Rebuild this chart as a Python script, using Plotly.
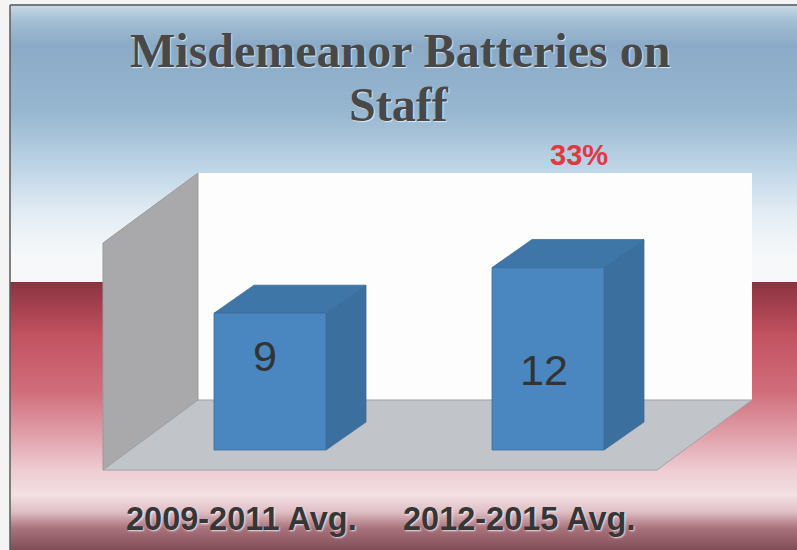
import plotly.graph_objects as go

# ---------------- data ----------------
categories = ["2009-2011 Avg.", "2012-2015 Avg."]
values = [9, 12]
change_label = "33%"
title_lines = ["Misdemeanor Batteries on", "Staff"]

# ---------------- layout constants (pixels) ----------------
W, H = 797, 550
PX_PER_UNIT = 15.2      # value -> pixel scale
BASE_PY = 450           # pixel y of value 0 at bar front
CAT0_PX = 270           # pixel x of first category centre
CAT_STEP = 278          # pixel distance between categories
BAR_W_PX = 112
DEPTH_DX, DEPTH_DY = 40, 28

def paper(px, py):
    return px / W, 1 - py / H

# axis ranges so that data units map onto pixels
x_range = [(0 - CAT0_PX) / CAT_STEP, (W - CAT0_PX) / CAT_STEP]
y_range = [(BASE_PY - H) / PX_PER_UNIT, BASE_PY / PX_PER_UNIT]

bw = BAR_W_PX / CAT_STEP
ddx = DEPTH_DX / CAT_STEP
ddy = DEPTH_DY / PX_PER_UNIT

shapes = []

# ---------------- background gradient (style) ----------------
stops = [
    (0, (214, 226, 236)), (20, (165, 191, 212)), (45, (138, 170, 199)),
    (110, (150, 182, 208)), (165, (188, 211, 229)), (215, (228, 237, 244)),
    (255, (246, 248, 250)), (282, (248, 248, 249)), (283, (138, 52, 66)),
    (300, (158, 60, 75)), (335, (194, 82, 96)), (390, (208, 108, 122)),
    (435, (224, 160, 170)), (470, (238, 204, 210)), (495, (243, 224, 227)),
    (512, (222, 190, 196)), (528, (170, 115, 125)), (550, (128, 78, 88)),
]

def col_at(y):
    for (y0, c0), (y1, c1) in zip(stops[:-1], stops[1:]):
        if y0 <= y <= y1:
            t = 0 if y1 == y0 else (y - y0) / (y1 - y0)
            return "rgb(%d,%d,%d)" % tuple(round(a + (b - a) * t) for a, b in zip(c0, c1))
    return "rgb(%d,%d,%d)" % stops[-1][1]

step = 2
for y in range(4, H, step):
    x0, y0 = paper(10, y)
    x1, y1 = paper(W, min(y + step + 1, H))
    shapes.append(dict(type="rect", xref="paper", yref="paper", x0=x0, x1=x1,
                       y0=y1, y1=y0, fillcolor=col_at(y + 1), line_width=0,
                       layer="below"))

# slide border
bx0, by0 = paper(10, 5)
shapes.append(dict(type="line", xref="paper", yref="paper", x0=bx0, x1=1,
                   y0=by0, y1=by0, line=dict(color="#5a5a5a", width=1.5), layer="below"))
shapes.append(dict(type="line", xref="paper", yref="paper", x0=bx0, x1=bx0,
                   y0=by0, y1=0, line=dict(color="#5a5a5a", width=1.5), layer="below"))

# ---------------- 3-D frame: back wall, side wall, floor ----------------
def poly_path(pts):
    p = [paper(*q) for q in pts]
    return "M " + " L ".join("%.5f,%.5f" % q for q in p) + " Z"

back_wall = [(198, 173), (752, 173), (752, 400), (198, 400)]
side_wall = [(103, 243), (198, 173), (198, 400), (103, 470)]
floor = [(103, 470), (657, 470), (752, 400), (198, 400)]
for pts, fill, lc in [(back_wall, "#fdfdfd", "rgba(0,0,0,0)"),
                      (side_wall, "#a9a9ab", "#9a9a9c"),
                      (floor, "#c1c4c8", "#9ea2a6")]:
    shapes.append(dict(type="path", xref="paper", yref="paper", path=poly_path(pts),
                       fillcolor=fill, line=dict(color=lc, width=1), layer="below"))

# ---------------- bars ----------------
fig = go.Figure()
front_c, side_c, top_c, edge_c = "#4a86bf", "#3a6f9e", "#3e76a8", "#3b6c98"
for i, v in enumerate(values):
    x0, x1 = i - bw / 2, i + bw / 2
    faces = [
        ([x1, x1 + ddx, x1 + ddx, x1, x1], [0, ddy, v + ddy, v, 0], side_c),
        ([x0, x1, x1 + ddx, x0 + ddx, x0], [v, v, v + ddy, v + ddy, v], top_c),
        ([x0, x1, x1, x0, x0], [0, 0, v, v, 0], front_c),
    ]
    for xs, ys, c in faces:
        fig.add_trace(go.Scatter(x=xs, y=ys, fill="toself", fillcolor=c, mode="lines",
                                 line=dict(color=edge_c, width=0.8), hoverinfo="skip",
                                 showlegend=False))

# ---------------- text ----------------
annotations = []

def label(text, px, py, family, size, color, shadow=None):
    ax, ay = paper(px, py)
    f = dict(family=family, size=size, color=color)
    if shadow:
        f["shadow"] = shadow
    annotations.append(dict(text=text, x=ax, y=ay, xref="paper", yref="paper",
                            showarrow=False, xanchor="center", yanchor="middle", font=f))

title_pos = [(400, 50), (399, 104)]
for t, (px, py) in zip(title_lines, title_pos):
    label("<b>%s</b>" % t, px, py, "Liberation Serif", 48, "#484848",
          "1px 1px 1px rgba(255,255,255,0.7)")

label("<b>%s</b>" % change_label, 579, 155, "Liberation Sans", 29, "#e0393f")

value_label_pos = [(265, 356), (544, 370)]
for v, (px, py) in zip(values, value_label_pos):
    label(str(v), px, py, "Liberation Sans", 43, "#333333")

cat_label_pos = [(241, 519), (519, 519)]
for c, (px, py) in zip(categories, cat_label_pos):
    label("<b>%s</b>" % c, px, py, "Liberation Sans", 32.5, "#363636",
          "1px 1px 2px rgba(255,255,255,0.8)")

fig.update_layout(
    width=W, height=H,
    margin=dict(l=0, r=0, t=0, b=0),
    paper_bgcolor="#f4f4f4",
    plot_bgcolor="rgba(0,0,0,0)",
    xaxis=dict(range=x_range, visible=False, fixedrange=True),
    yaxis=dict(range=y_range, visible=False, fixedrange=True),
    shapes=shapes,
    annotations=annotations,
    showlegend=False,
)

fig.write_html("out.html", config={"displayModeBar": False},
               post_script="document.body.style.margin='0';document.body.style.overflow='hidden';")
